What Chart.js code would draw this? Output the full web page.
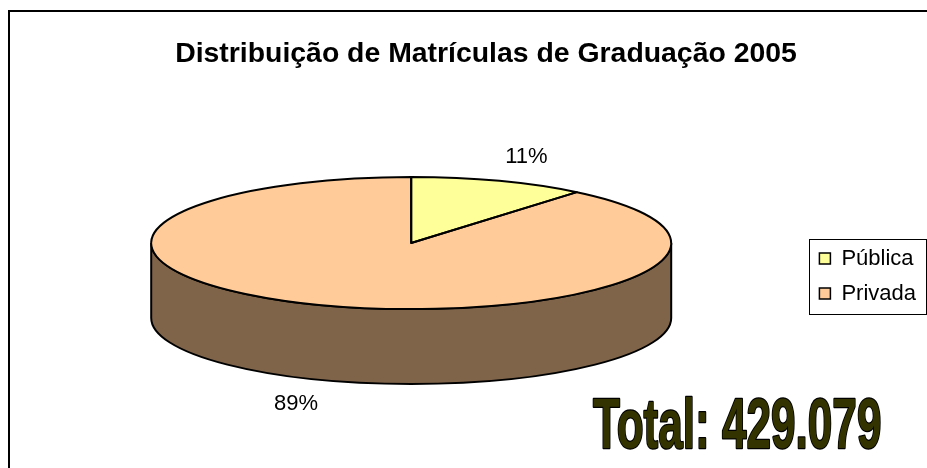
<!DOCTYPE html>
<html>
<head>
<meta charset="utf-8">
<script src="https://cdn.jsdelivr.net/npm/chart.js@4.4.1/dist/chart.umd.min.js"></script>
<style>
  html, body { margin: 0; padding: 0; background: #fff; }
  #wrap { width: 927px; height: 468px; }
</style>
</head>
<body>
<div id="wrap"><canvas id="matriculasChart" width="927" height="468"></canvas></div>
<script>
// matriculasChart.js - pizza 3D das matrículas

const categories = ["Pública", "Privada"];
const shares = [11, 89]; // % das matrículas de graduação
const chartTitle = "Distribuição de Matrículas de Graduação 2005";
const totalLabel = "Total: 429.079";

const topColors = ["#FFFF99", "#FFCC99"];
const sideColors = ["#80804C", "#7F644A"];

const FONT = "'Liberation Sans', Arial, sans-serif";
const TILT = 0.254;  // ry / rx da elipse
const DEPTH = 0.288; // altura da lateral / rx

function pieGeom(chart) {
  const arcs = chart.getDatasetMeta(0).data;
  const r = arcs[0].outerRadius;
  const ry = r * TILT;
  return { arcs, cx: arcs[0].x, cy: chart.chartArea.top + ry, rx: r, ry, depth: r * DEPTH, y0: arcs[0].y };
}

const pie3d = {
  id: "pie3d",
  beforeDatasetsDraw(chart) {
    const ctx = chart.ctx;
    const g = pieGeom(chart);
    ctx.save();
    ctx.lineWidth = 2;
    ctx.strokeStyle = "#000";
    // lateral (só a metade da frente aparece)
    g.arcs.forEach((arc, i) => {
      for (let k = -1; k <= 1; k++) {
        const a = Math.max(arc.startAngle, 2 * Math.PI * k);
        const b = Math.min(arc.endAngle, 2 * Math.PI * k + Math.PI);
        if (b <= a) continue;
        ctx.beginPath();
        ctx.ellipse(g.cx, g.cy, g.rx, g.ry, 0, a, b);
        ctx.ellipse(g.cx, g.cy + g.depth, g.rx, g.ry, 0, b, a, true);
        ctx.closePath();
        ctx.fillStyle = sideColors[i];
        ctx.fill();
        ctx.stroke();
      }
    });
    ctx.restore();
    // achata o desenho das fatias
    ctx.save();
    ctx.translate(0, g.cy);
    ctx.scale(1, TILT);
    ctx.translate(0, -g.y0);
  },
  afterDatasetsDraw(chart) {
    const ctx = chart.ctx;
    ctx.restore();
    const g = pieGeom(chart);
    ctx.save();
    ctx.lineWidth = 2;
    ctx.strokeStyle = "#000";
    ctx.lineJoin = "round";
    g.arcs.forEach(arc => {
      ctx.beginPath();
      ctx.moveTo(g.cx, g.cy);
      ctx.ellipse(g.cx, g.cy, g.rx, g.ry, 0, arc.startAngle, arc.endAngle);
      ctx.closePath();
      ctx.stroke();
    });

    // rótulos de porcentagem
    const values = chart.data.datasets[0].data;
    const total = values.reduce((s, v) => s + v, 0);
    ctx.fillStyle = "#000";
    ctx.font = "22px " + FONT;
    ctx.textAlign = "center";
    ctx.textBaseline = "middle";
    g.arcs.forEach((arc, i) => {
      const m = (arc.startAngle + arc.endAngle) / 2;
      const x = g.cx + (g.rx + 80) * Math.cos(m);
      let y = g.cy + (g.ry + 25) * Math.sin(m);
      if (Math.sin(m) > 0) y += g.depth;
      ctx.fillText(Math.round(values[i] / total * 100) + "%", x, y);
    });
    ctx.restore();
  },
  afterDraw(chart) {
    const ctx = chart.ctx;
    ctx.save();
    // moldura
    ctx.lineWidth = 2;
    ctx.strokeStyle = "#000";
    ctx.strokeRect(9, 11, 1000, 1000);

    // título
    ctx.fillStyle = "#000";
    ctx.font = "bold 28.4px " + FONT;
    ctx.textAlign = "center";
    ctx.textBaseline = "middle";
    ctx.fillText(chartTitle, 486, 54);

    // caixa da legenda
    const hb = chart.legend.legendHitBoxes;
    if (hb && hb.length) {
      const left = Math.min(...hb.map(h => h.left)) - 10;
      const right = Math.max(...hb.map(h => h.left + h.width)) + 10;
      const top = Math.min(...hb.map(h => h.top)) - 9;
      const bottom = Math.max(...hb.map(h => h.top + h.height)) + 9;
      ctx.lineWidth = 1;
      ctx.strokeRect(Math.round(left) + 0.5, Math.round(top) + 0.5, Math.round(right - left), Math.round(bottom - top));
    }

    // total
    ctx.translate(593, 448);
    ctx.scale(0.63, 1);
    ctx.font = "bold 70px " + FONT;
    ctx.textAlign = "left";
    ctx.textBaseline = "alphabetic";
    ctx.lineWidth = 2.5;
    ctx.lineJoin = "round";
    ctx.strokeStyle = "#000";
    ctx.fillStyle = "#333300";
    ctx.strokeText(totalLabel, 0, 0);
    ctx.fillText(totalLabel, 0, 0);
    ctx.restore();
  }
};

const pieLegendLabels = (chart) => {
  const items = Chart.overrides.pie.plugins.legend.labels.generateLabels(chart);
  items.forEach(it => { it.strokeStyle = "#000"; it.lineWidth = 1.5; });
  return items;
};

const ctx = document.getElementById("matriculasChart").getContext("2d");

new Chart(ctx, {
  type: "pie",
  data: {
    labels: categories,
    datasets: [{
      data: shares,
      backgroundColor: topColors,
      borderWidth: 0,
      radius: 260,
      clip: false
    }]
  },
  options: {
    responsive: false,
    animation: false,
    events: [],
    layout: { padding: { top: 177, bottom: 93, left: 16, right: 1 } },
    plugins: {
      title: { display: false },
      tooltip: { enabled: false },
      legend: {
        position: "right",
        labels: {
          font: { family: FONT, size: 22 },
          color: "#000",
          boxWidth: 11,
          boxHeight: 11,
          padding: 13,
          generateLabels: pieLegendLabels
        }
      }
    }
  },
  plugins: [pie3d]
});
</script>
</body>
</html>
